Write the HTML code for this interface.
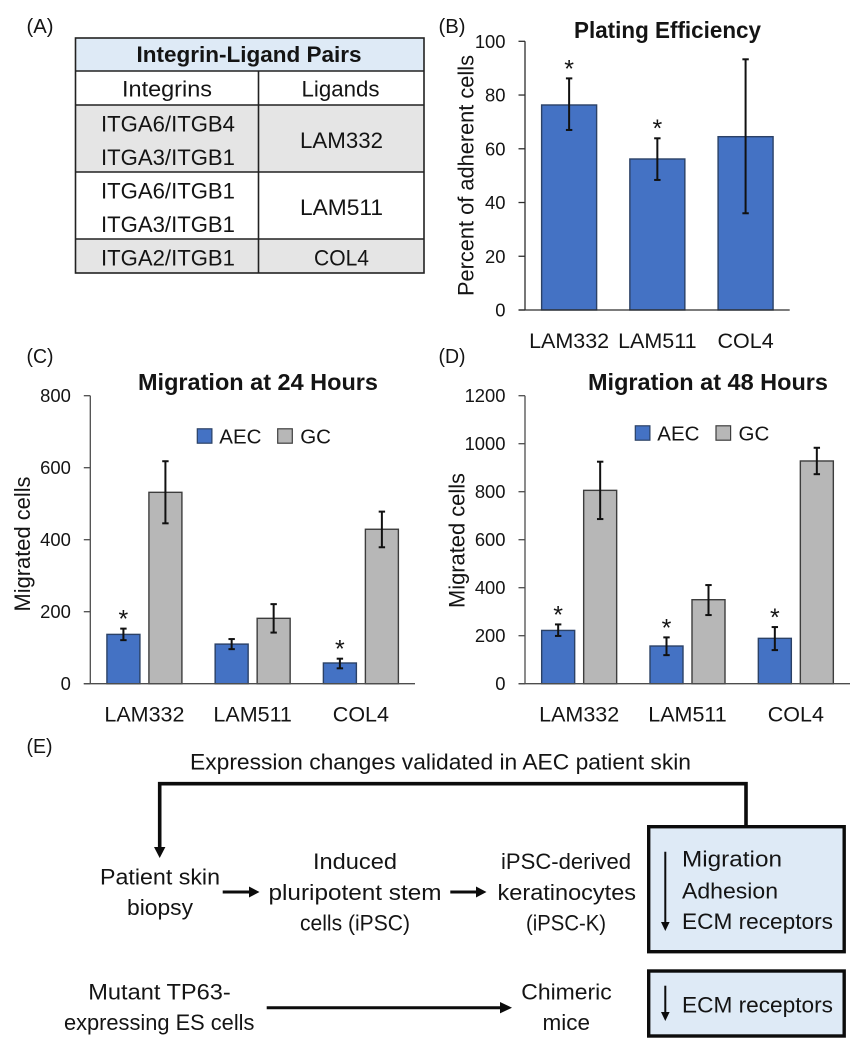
<!DOCTYPE html>
<html lang="en">
<head>
<meta charset="utf-8">
<title>Integrin-ligand pairs and migration charts</title>
<style>
html,body{margin:0;padding:0;background:#fff;}
svg{display:block;}
text{font-family:"Liberation Sans",sans-serif;fill:#141414;}
.c{text-anchor:middle;}
</style>
</head>
<body>
<svg id="fig" xmlns="http://www.w3.org/2000/svg" width="864" height="1050" viewBox="0 0 864 1050">
  <rect x="0" y="0" width="864" height="1050" fill="#ffffff"/>

  <text x="26.5" y="33" font-size="20.5" textLength="27" lengthAdjust="spacingAndGlyphs">(A)</text>
  <text x="438.5" y="33" font-size="20.5" textLength="27" lengthAdjust="spacingAndGlyphs">(B)</text>
  <text x="26.5" y="363" font-size="20.5" textLength="27" lengthAdjust="spacingAndGlyphs">(C)</text>
  <text x="438.5" y="363" font-size="20.5" textLength="27" lengthAdjust="spacingAndGlyphs">(D)</text>
  <text x="26.5" y="753" font-size="20.5" textLength="26" lengthAdjust="spacingAndGlyphs">(E)</text>

  <g>
    <rect x="75.5" y="38" width="348.5" height="33" fill="#deeaf6"/>
    <rect x="75.5" y="105" width="348.5" height="67" fill="#e5e5e5"/>
    <rect x="75.5" y="239" width="348.5" height="34" fill="#e5e5e5"/>
    <rect x="75.5" y="38" width="348.5" height="235" fill="none" stroke="#222" stroke-width="1.6"/>
    <line x1="75.5" x2="424" y1="71" y2="71" stroke="#222" stroke-width="1.6"/>
    <line x1="75.5" x2="424" y1="105" y2="105" stroke="#222" stroke-width="1.6"/>
    <line x1="75.5" x2="424" y1="172" y2="172" stroke="#222" stroke-width="1.6"/>
    <line x1="75.5" x2="424" y1="239" y2="239" stroke="#222" stroke-width="1.6"/>
    <line x1="258.5" x2="258.5" y1="71" y2="273" stroke="#222" stroke-width="1.6"/>
    <text class="c" x="249" y="62" font-size="22.5" font-weight="bold" textLength="225" lengthAdjust="spacingAndGlyphs">Integrin-Ligand Pairs</text>
    <text class="c" x="167" y="96.5" font-size="22.5" textLength="90" lengthAdjust="spacingAndGlyphs">Integrins</text>
    <text class="c" x="340.5" y="96.5" font-size="22.5" textLength="78" lengthAdjust="spacingAndGlyphs">Ligands</text>
    <text class="c" x="168" y="131.5" font-size="22.5" textLength="134" lengthAdjust="spacingAndGlyphs">ITGA6/ITGB4</text>
    <text class="c" x="168" y="165" font-size="22.5" textLength="134" lengthAdjust="spacingAndGlyphs">ITGA3/ITGB1</text>
    <text class="c" x="168" y="198.5" font-size="22.5" textLength="134" lengthAdjust="spacingAndGlyphs">ITGA6/ITGB1</text>
    <text class="c" x="168" y="232" font-size="22.5" textLength="134" lengthAdjust="spacingAndGlyphs">ITGA3/ITGB1</text>
    <text class="c" x="168" y="265.5" font-size="22.5" textLength="134" lengthAdjust="spacingAndGlyphs">ITGA2/ITGB1</text>
    <text class="c" x="341.5" y="148" font-size="22.5" textLength="83" lengthAdjust="spacingAndGlyphs">LAM332</text>
    <text class="c" x="341.5" y="215" font-size="22.5" textLength="83" lengthAdjust="spacingAndGlyphs">LAM511</text>
    <text class="c" x="341.5" y="265.5" font-size="22.5" textLength="55" lengthAdjust="spacingAndGlyphs">COL4</text>
  </g>

  <g id="chart-b"></g>
  <g id="chart-c"></g>
  <g id="chart-d"></g>

  <g>
    <text x="190" y="769.3" font-size="22.5" textLength="501" lengthAdjust="spacingAndGlyphs">Expression changes validated in AEC patient skin</text>
    <polyline points="746,826 746,783.7 159.7,783.7 159.7,849" fill="none" stroke="#0c0c0c" stroke-width="3.6"/>
    <polygon points="154,847 165.4,847 159.7,858" fill="#0c0c0c"/>

    <text class="c" x="160" y="884.3" font-size="22.5" textLength="120" lengthAdjust="spacingAndGlyphs">Patient skin</text>
    <text class="c" x="160" y="915" font-size="22.5" textLength="66" lengthAdjust="spacingAndGlyphs">biopsy</text>
    <line x1="222.7" x2="251" y1="892" y2="892" stroke="#0c0c0c" stroke-width="3"/>
    <polygon points="249,886.5 259.5,892 249,897.5" fill="#0c0c0c"/>

    <text class="c" x="355" y="869" font-size="22.5" textLength="84" lengthAdjust="spacingAndGlyphs">Induced</text>
    <text class="c" x="355" y="900" font-size="22.5" textLength="173" lengthAdjust="spacingAndGlyphs">pluripotent stem</text>
    <text class="c" x="355" y="930.7" font-size="22.5" textLength="110" lengthAdjust="spacingAndGlyphs">cells (iPSC)</text>
    <line x1="450.3" x2="478" y1="892" y2="892" stroke="#0c0c0c" stroke-width="3"/>
    <polygon points="476,886.5 486.5,892 476,897.5" fill="#0c0c0c"/>

    <text class="c" x="566" y="869" font-size="22.5" textLength="130" lengthAdjust="spacingAndGlyphs">iPSC-derived</text>
    <text class="c" x="566.8" y="900" font-size="22.5" textLength="138.5" lengthAdjust="spacingAndGlyphs">keratinocytes</text>
    <text class="c" x="566" y="930.7" font-size="22.5" textLength="80" lengthAdjust="spacingAndGlyphs">(iPSC-K)</text>

    <rect x="648.7" y="826.7" width="195.5" height="125" fill="#deeaf6" stroke="#0c0c0c" stroke-width="3.4"/>
    <line x1="665.3" x2="665.3" y1="851.7" y2="924" stroke="#0c0c0c" stroke-width="2"/>
    <polygon points="661,922 669.6,922 665.3,931" fill="#0c0c0c"/>
    <text x="682" y="866.7" font-size="22.5" textLength="100" lengthAdjust="spacingAndGlyphs">Migration</text>
    <text x="682" y="898.3" font-size="22.5" textLength="96" lengthAdjust="spacingAndGlyphs">Adhesion</text>
    <text x="682" y="929" font-size="22.5" textLength="151" lengthAdjust="spacingAndGlyphs">ECM receptors</text>

    <text class="c" x="159.5" y="999.3" font-size="22.5" textLength="142.5" lengthAdjust="spacingAndGlyphs">Mutant TP63-</text>
    <text class="c" x="159.2" y="1030" font-size="22.5" textLength="190.5" lengthAdjust="spacingAndGlyphs">expressing ES cells</text>
    <line x1="266.7" x2="503" y1="1007.7" y2="1007.7" stroke="#0c0c0c" stroke-width="3"/>
    <polygon points="500,1002 512,1007.7 500,1013.4" fill="#0c0c0c"/>
    <text class="c" x="566.5" y="999.3" font-size="22.5" textLength="90.5" lengthAdjust="spacingAndGlyphs">Chimeric</text>
    <text class="c" x="566.3" y="1030" font-size="22.5" textLength="47.5" lengthAdjust="spacingAndGlyphs">mice</text>

    <rect x="648.7" y="971" width="195.5" height="65" fill="#deeaf6" stroke="#0c0c0c" stroke-width="3.4"/>
    <line x1="665.3" x2="665.3" y1="985.7" y2="1014" stroke="#0c0c0c" stroke-width="2"/>
    <polygon points="661,1012 669.6,1012 665.3,1021" fill="#0c0c0c"/>
    <text x="682" y="1012.7" font-size="22.5" textLength="151" lengthAdjust="spacingAndGlyphs">ECM receptors</text>
  </g>
</svg>

<script>
// Shared categories
const categories = ["LAM332", "LAM511", "COL4"];

// Panel B: plating efficiency
const platingTicks = ["0", "20", "40", "60", "80", "100"];
const platingValues = [76.3, 56.2, 64.5];
const platingErrHigh = [86.2, 63.9, 93.3];
const platingErrLow = [67, 48.4, 36];
const platingStars = [true, true, false];

// Panel C: migration at 24 hours
const m24Ticks = ["0", "200", "400", "600", "800"];
const m24Aec = [137, 110, 57.5];
const m24AecHigh = [153, 124, 69.5];
const m24AecLow = [121, 96, 42.7];
const m24AecStars = [true, false, true];
const m24Gc = [531.6, 181.6, 429];
const m24GcHigh = [618, 221, 478];
const m24GcLow = [445.5, 142, 379];
const m24GcStars = [false, false, false];

// Panel D: migration at 48 hours
const m48Ticks = ["0", "200", "400", "600", "800", "1000", "1200"];
const m48Aec = [222, 157, 189];
const m48AecHigh = [247, 193, 236];
const m48AecLow = [199, 119, 140];
const m48AecStars = [true, true, true];
const m48Gc = [805.6, 350, 928];
const m48GcHigh = [925, 411, 983];
const m48GcLow = [686, 286, 873];
const m48GcStars = [false, false, false];

const SVG_NS = "http://www.w3.org/2000/svg";
const BLUE = "#4472c4", BLUE_EDGE = "#2b4166";
const GREY = "#b7b7b7", GREY_EDGE = "#3d3d3d";

function mk(tag, attrs, parent, txt) {
  const n = document.createElementNS(SVG_NS, tag);
  for (const k in attrs) n.setAttribute(k, attrs[k]);
  if (txt !== undefined) n.textContent = txt;
  parent.appendChild(n);
  return n;
}

function drawChart(cfg) {
  const g = document.getElementById(cfg.id);
  const maxV = Number(cfg.ticks[cfg.ticks.length - 1]);
  const yPos = v => cfg.y0 - (v / maxV) * (cfg.y0 - cfg.yTop);
  const band = (cfg.xRight - cfg.xAxis) / cfg.cats.length;
  const xCenter = i => cfg.xAxis + band * (i + 0.5);

  const title = mk("text", {x: cfg.titleX, y: cfg.titleY, "font-size": 23.5, "font-weight": "bold", "text-anchor": "middle", textLength: cfg.titleW, lengthAdjust: "spacingAndGlyphs"}, g, cfg.title);
  
  

  const yt = mk("text", {x: cfg.yTitleX, y: cfg.yTitleY, "font-size": 22, "text-anchor": "middle", textLength: cfg.yTitleW, lengthAdjust: "spacingAndGlyphs", transform: "rotate(-90 " + cfg.yTitleX + " " + cfg.yTitleY + ")"}, g, cfg.yTitle);
  
  

  cfg.ticks.forEach(t => {
    const y = yPos(Number(t));
    const tick = mk("line", {x1: cfg.xAxis - 6.5, x2: cfg.xAxis, y1: y, y2: y, stroke: cfg.axisColor, "stroke-width": 1.3}, g);
    
    
    const lab = mk("text", {x: cfg.xAxis - 19.5, y: y + 6.5, "font-size": 18.4, "text-anchor": "end"}, g, t);
    
    
  });

  const n = cfg.series.length;
  cfg.series.forEach((s, si) => {
    s.vals.forEach((v, i) => {
      const xc = n === 1 ? xCenter(i) : xCenter(i) + (si === 0 ? -1 : 1) * (cfg.barW + cfg.gap) / 2;
      const yv = yPos(v);
      const bar = mk("rect", {x: xc - cfg.barW / 2, y: yv, width: cfg.barW, height: cfg.y0 - yv, fill: s.fill, stroke: s.edge, "stroke-width": 1.4}, g);
      
      

      const hiY = yPos(s.high[i]), loY = yPos(s.low[i]);
      const stem = mk("line", {x1: xc, x2: xc, y1: hiY, y2: loY, stroke: "#111", "stroke-width": 2}, g);
      
      
      const capHigh = mk("line", {x1: xc - 3.2, x2: xc + 3.2, y1: hiY, y2: hiY, stroke: "#111", "stroke-width": 2}, g);
      
      
      const capLow = mk("line", {x1: xc - 3.2, x2: xc + 3.2, y1: loY, y2: loY, stroke: "#111", "stroke-width": 2}, g);
      
      

      if (s.stars[i]) {
        const star = mk("text", {x: xc, y: hiY - 12.6 + 11.5, "font-size": 25, "text-anchor": "middle"}, g, "*");
        
        
      }
    });
  });

  const yAxis = mk("line", {x1: cfg.xAxis, x2: cfg.xAxis, y1: cfg.yTop, y2: cfg.y0, stroke: cfg.axisColor, "stroke-width": 1.3}, g);
  
  
  const xAxis = mk("line", {x1: cfg.xAxis - 6.5, x2: cfg.xRight, y1: cfg.y0, y2: cfg.y0, stroke: cfg.axisColor, "stroke-width": 1.3}, g);
  
  

  cfg.cats.forEach((c, i) => {
    const lab = mk("text", {x: xCenter(i), y: cfg.catY, "font-size": 21.5, "text-anchor": "middle"}, g, c);
    
    
  });

  if (cfg.legend) {
    const L = cfg.legend;
    const sw1 = mk("rect", {x: L.x1, y: L.y, width: 14.6, height: 14.4, fill: BLUE, stroke: BLUE_EDGE, "stroke-width": 1.2}, g);
    
    
    const t1 = mk("text", {x: L.x1 + 22, y: L.y + 14.5, "font-size": 20.5}, g, "AEC");
    
    
    const sw2 = mk("rect", {x: L.x2, y: L.y, width: 14.6, height: 14.4, fill: GREY, stroke: GREY_EDGE, "stroke-width": 1.2}, g);
    
    
    const t2 = mk("text", {x: L.x2 + 22.5, y: L.y + 14.5, "font-size": 20.5}, g, "GC");
    
    
  }
}

drawChart({
  id: "chart-b", cats: categories, ticks: platingTicks,
  xAxis: 525, xRight: 789.7, y0: 310, yTop: 41.3, barW: 55, gap: 0, catY: 348, axisColor: "#2e2e2e",
  title: "Plating Efficiency", titleX: 667.5, titleY: 38, titleW: 187,
  yTitle: "Percent of adherent cells", yTitleX: 473.5, yTitleY: 175.5, yTitleW: 241,
  series: [{name: "plating", vals: platingValues, high: platingErrHigh, low: platingErrLow, stars: platingStars, fill: BLUE, edge: BLUE_EDGE}]
});

drawChart({
  id: "chart-c", cats: categories, ticks: m24Ticks,
  xAxis: 90.3, xRight: 415, y0: 683.7, yTop: 395.7, barW: 33, gap: 9, catY: 721.7, axisColor: "#4d4d4d",
  title: "Migration at 24 Hours", titleX: 258, titleY: 390, titleW: 240,
  yTitle: "Migrated cells", yTitleX: 30, yTitleY: 544, yTitleW: 135,
  legend: {x1: 197.3, x2: 277.7, y: 428.8},
  series: [
    {name: "aec", vals: m24Aec, high: m24AecHigh, low: m24AecLow, stars: m24AecStars, fill: BLUE, edge: BLUE_EDGE},
    {name: "gc", vals: m24Gc, high: m24GcHigh, low: m24GcLow, stars: m24GcStars, fill: GREY, edge: GREY_EDGE}
  ]
});

drawChart({
  id: "chart-d", cats: categories, ticks: m48Ticks,
  xAxis: 525, xRight: 850, y0: 683.7, yTop: 395.7, barW: 33, gap: 9, catY: 721.7, axisColor: "#4d4d4d",
  title: "Migration at 48 Hours", titleX: 708, titleY: 390, titleW: 240,
  yTitle: "Migrated cells", yTitleX: 464.5, yTitleY: 540.5, yTitleW: 135,
  legend: {x1: 635.3, x2: 716, y: 425.8},
  series: [
    {name: "aec", vals: m48Aec, high: m48AecHigh, low: m48AecLow, stars: m48AecStars, fill: BLUE, edge: BLUE_EDGE},
    {name: "gc", vals: m48Gc, high: m48GcHigh, low: m48GcLow, stars: m48GcStars, fill: GREY, edge: GREY_EDGE}
  ]
});
</script>
</body>
</html>
